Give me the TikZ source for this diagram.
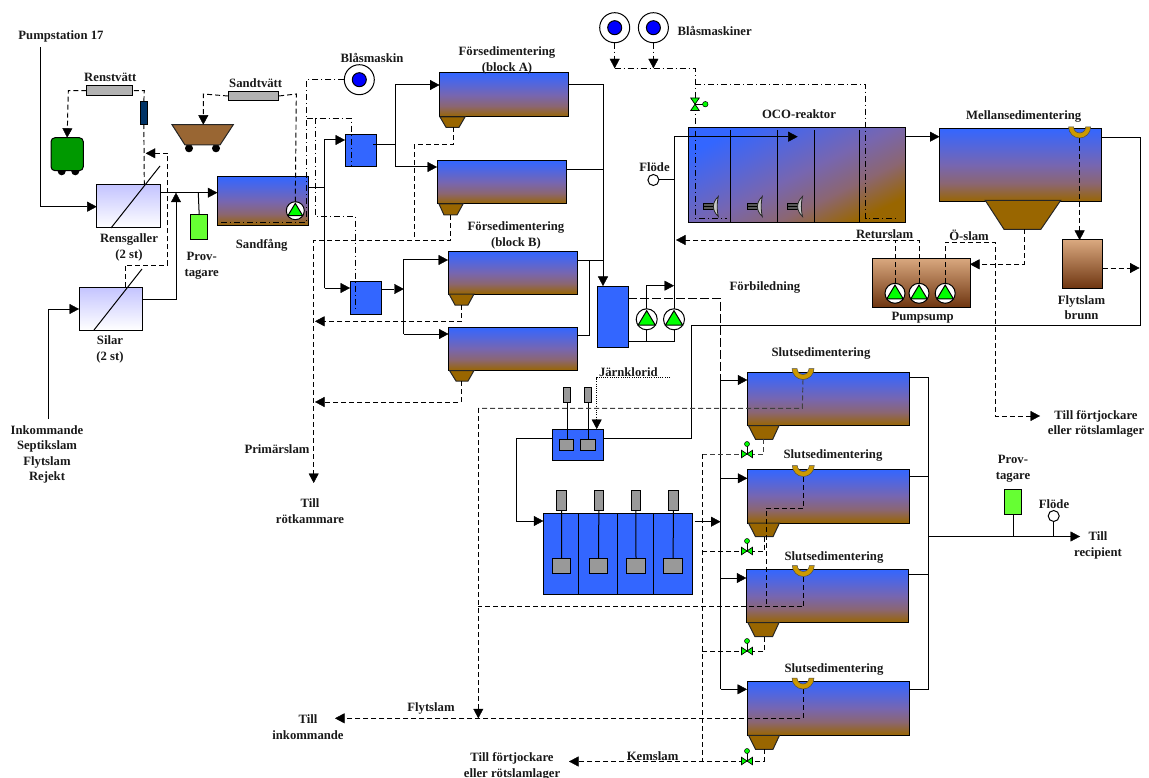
\documentclass[tikz,border=0pt]{standalone}
\usepackage{fontspec}
\setmainfont{Liberation Serif}
\usetikzlibrary{arrows.meta}
\pgfdeclarelayer{tanks}
\pgfdeclarelayer{top}
\pgfsetlayers{tanks,main,top}
\definecolor{tb}{HTML}{3366FF}
\definecolor{tq}{HTML}{5566DA}
\definecolor{tm}{HTML}{7766B0}
\definecolor{tn}{HTML}{8B6672}
\definecolor{tbr}{HTML}{996600}
\definecolor{hop}{HTML}{996600}
\definecolor{cart}{HTML}{996633}
\definecolor{navy}{HTML}{003366}
\definecolor{swt}{HTML}{D9A87F}
\definecolor{swb}{HTML}{6E3510}
\definecolor{wr}{HTML}{CC9900}
\definecolor{gr}{HTML}{00FF00}
\definecolor{prov}{HTML}{66FF33}
\definecolor{gy}{HTML}{999999}
\definecolor{gl}{HTML}{B2B2B2}
\definecolor{lav}{HTML}{C4C4FF}
\pgfdeclareverticalshading{tankfill}{100bp}{color(0bp)=(tbr); color(25bp)=(tbr); color(37.5bp)=(tn); color(50bp)=(tm); color(62.5bp)=(tq); color(75bp)=(tb); color(100bp)=(tb)}
\tikzset{
 spanbox/.style n args={4}{at={({(#1+#3)/2},{(#2+#4)/2})},minimum width={(#3-#1)*1pt},minimum height={(#4-#2)*1pt}},
 base/.style={draw=black,line width=1pt,inner sep=0pt,outer sep=0pt},
 tank/.style={base,shading=tankfill},
 bluebox/.style={base,fill=tb},
 greybox/.style={base,fill=gy},
 sump/.style={base,top color=swt,bottom color=swb},
 screen/.style={base,top color=lav,bottom color=white},
 provbox/.style={base,fill=prov},
 ln/.style={draw=black,line width=1pt},
 tip/.style={-{Triangle[length=9.5pt,width=10pt,fill=black,line width=.4pt]}},
 arr/.style={ln,tip},
 dsh/.style={draw=black,line width=.95pt,dash pattern=on 5pt off 3pt},
 dsharr/.style={dsh,tip},
 dgrey/.style={draw=black!75,line width=.95pt,dash pattern=on 5pt off 3pt},
 ldsh/.style={draw=black,line width=.95pt,dash pattern=on 9pt off 3pt},
 ddot/.style={draw=black,line width=.9pt,dash pattern=on 6pt off 3pt on 1pt off 3pt},
 ddotarr/.style={ddot,tip},
 dotl/.style={draw=black,line width=.75pt,dash pattern=on 1pt off 1.2pt},
 lab/.style={font=\fontsize{12.7}{15.6}\selectfont\bfseries,align=center,text=black!90,inner sep=0pt,yshift=-1pt},
}
\newcommand{\hopper}[6]{\fill[hop,draw=black!85,line width=1pt] (#1,#5)--(#2,#5)--(#4,#6)--(#3,#6)--cycle;}
\newcommand{\pumpnode}[4]{\node[base,circle,fill=white,minimum size=#4*2pt] (#1) at (#2,#3) {};
 \fill[gr,draw=black,line width=1pt] ({#2},{#3-#4*.82})--({#2+#4*.82},{#3+#4*.55})--({#2-#4*.82},{#3+#4*.55})--cycle;}
\newcommand{\blowernode}[3]{\node[base,circle,fill=white,minimum size=30pt] (#1) at (#2,#3) {};
 \node[base,circle,fill=blue,minimum size=14pt] at (#2,#3) {};}
\newcommand{\weirshape}[3]{\fill[wr,draw=black!70,line width=.5pt] ({#2-11},#3) arc[start angle=180,end angle=360,radius=11pt] -- ({#2+6},#3) arc[start angle=0,end angle=-180,radius=6pt] -- cycle;
 \coordinate (#1) at (#2,{#3+11});}
\newcommand{\valveH}[3]{\draw[black,line width=.8pt] (#2,#3)--(#2,{#3-10});
 \fill[gr,draw=black,line width=.7pt] ({#2-5.5},{#3-3.7})--(#2,#3)--({#2-5.5},{#3+3.7})--cycle;
 \fill[gr,draw=black,line width=.7pt] ({#2+5.5},{#3-3.7})--(#2,#3)--({#2+5.5},{#3+3.7})--cycle;
 \node[circle,fill=gr,draw=black,line width=.5pt,minimum size=5pt,inner sep=0pt] (#1) at (#2,{#3-10}) {};}
\newcommand{\mixdev}[2]{\fill[black!65,draw=black,line width=.7pt] ({#1-5.5},{#2-3.2})rectangle({#1+5.5},{#2+3.2});
 \draw[black,line width=.6pt] ({#1-5.5},#2)--({#1+5.5},#2);
 \fill[gray!45,draw=black!85,line width=.8pt] ({#1+9.5},{#2-10}) .. controls ({#1+3},{#2-4}) and ({#1+3},{#2+4}) .. ({#1+9.5},{#2+10}) .. controls ({#1+8},{#2+4}) and ({#1+8},{#2-4}) .. cycle;}
\begin{document}
\begin{tikzpicture}[x=1pt,y=-1pt]
\useasboundingbox (0,0) rectangle (1149,778);
\begin{pgfonlayer}{tanks}
% process units
\node[screen,spanbox={96.7}{185}{160}{228}] (rg) {};
\node[screen,spanbox={79}{287}{142}{330}] (silar) {};
\node[tank,spanbox={217.3}{176.7}{308.7}{226}] (sand) {};
\node[provbox,spanbox={190.7}{215}{207.7}{240}] (prov1) {};
\node[greybox,fill=gl,spanbox={86.3}{86}{132.7}{95.3}] (rt) {};
\node[base,fill=navy,spanbox={140.7}{101.3}{147}{125}] (rdev) {};
\fill[black] (61.7,171.3) circle[radius=4pt] (75.3,171.3) circle[radius=4pt];
\node[base,fill=green!60!black,rounded corners=4pt,spanbox={51}{137.7}{83.3}{170.7}] (rwagon) {};
\node[greybox,fill=gl,spanbox={228}{91.3}{278.7}{100.7}] (st) {};
\fill[black] (189,148.3) circle[radius=4pt] (216,148.3) circle[radius=4pt];
\fill[cart,draw=black!85,line width=1pt] (172,124.7)--(233.3,124.7)--(220,145)--(185,145)--cycle;
\coordinate (swagon) at (203.3,124.7);
\node[bluebox,spanbox={345}{135}{376}{167}] (d1) {};
\node[bluebox,spanbox={350}{282}{381}{314}] (d2) {};
\node[tank,spanbox={439.5}{73}{568}{117}] (fa1) {};
\node[tank,spanbox={437}{161}{566}{204}] (fa2) {};
\node[tank,spanbox={448}{251.7}{577}{294}] (fb1) {};
\node[tank,spanbox={448.5}{327}{577}{370.5}] (fb2) {};
\hopper{440}{465}{446}{459}{117}{127.3}
\hopper{439}{463}{444}{457}{204}{215}
\hopper{449}{474}{455}{468}{294}{305}
\hopper{449.5}{474}{456}{468}{370.5}{381}
\node[bluebox,spanbox={597}{286}{628}{347}] (wet) {};
\node[tank,shading angle=26,spanbox={688.8}{127.3}{905.4}{222.7}] (oco) {};
\foreach \xd/\yd in {730.3/130,777.7/130,814.3/130,859.5/130}
  \draw[black,line width=1pt] (\xd,\yd)--(\xd,222.7);
\mixdev{708.8}{206.5}
\mixdev{752.8}{206.5}
\mixdev{793}{206.5}
\node[tank,spanbox={939.5}{128.3}{1101.5}{201.7}] (ms) {};
\hopper{985.3}{1060.6}{1004}{1040.9}{200.5}{229.3}
\node[sump,spanbox={872}{258.3}{970}{307.3}] (ps) {};
\node[sump,spanbox={1062}{240}{1102.5}{288.7}] (fb) {};
\node[tank,spanbox={747.3}{372}{909.3}{425.7}] (s1) {};
\node[tank,spanbox={747.3}{469.3}{909.3}{523}] (s2) {};
\node[tank,spanbox={746.3}{569.3}{908.7}{622.7}] (s3) {};
\node[tank,spanbox={747}{681.7}{909}{735.3}] (s4) {};
\hopper{748.5}{779}{755.5}{772.7}{425.7}{439.3}
\hopper{748.5}{779.5}{755.5}{773}{523}{536.7}
\hopper{748}{779}{755}{772.5}{622.7}{636.7}
\hopper{748.5}{779.5}{755.5}{773}{735.3}{749.3}
\node[bluebox,spanbox={552.7}{429}{603.3}{460}] (dose) {};
\node[greybox,spanbox={559.3}{439.7}{573.7}{450.7}] (dg1) {};
\node[greybox,spanbox={580.3}{439.7}{595.7}{450.7}] (dg2) {};
\node[greybox,spanbox={563.3}{387.7}{570.7}{402.3}] (dt1) {};
\node[greybox,spanbox={584.3}{387.7}{591.7}{402.3}] (dt2) {};
\node[bluebox,spanbox={543.3}{513.3}{692.7}{594}] (fl) {};
\foreach \xd in {578.7,617.7,653} \draw[black,line width=1pt] (\xd,513.3)--(\xd,594);
\node[greybox,spanbox={556.7}{490.7}{566.7}{510}] (m1) {};
\node[greybox,spanbox={594}{490.7}{603.7}{510}] (m2) {};
\node[greybox,spanbox={631}{490.7}{640.7}{510}] (m3) {};
\node[greybox,spanbox={668.3}{490.7}{678.3}{510}] (m4) {};
\node[greybox,spanbox={552.3}{558.7}{570.7}{573.3}] (g1) {};
\node[greybox,spanbox={589.3}{558.7}{607.7}{573.3}] (g2) {};
\node[greybox,spanbox={626.7}{558.7}{645.3}{573.3}] (g3) {};
\node[greybox,spanbox={663.7}{558.7}{682.7}{573.3}] (g4) {};
\node[provbox,spanbox={1004.7}{489}{1021.7}{514}] (prov2) {};
\end{pgfonlayer}
\begin{pgfonlayer}{top}
\pumpnode{psand}{295.3}{210.7}{9}
\pumpnode{pw1}{646.7}{319.3}{10.5}
\pumpnode{pw2}{674}{319.3}{10.5}
\pumpnode{ps1}{895}{293.3}{10}
\pumpnode{ps2}{919}{293.3}{10}
\pumpnode{ps3}{945.2}{293.3}{10}
\blowernode{bm}{359.3}{79.7}
\blowernode{bl1}{614.7}{27.7}
\blowernode{bl2}{653.4}{27.7}
\weirshape{wm}{1079.6}{127}
\weirshape{w1}{803}{368.5}
\weirshape{w2}{803.3}{465.5}
\weirshape{w3}{803.3}{565.5}
\weirshape{w4}{803}{678}
\valveH{v1}{747}{454}
\valveH{v2}{747}{551}
\valveH{v3}{747}{651}
\valveH{v4}{747}{761}
\fill[gr,draw=black,line width=.7pt] (690.7,98)--(699.3,98)--(695,104.2)--cycle;
\fill[gr,draw=black,line width=.7pt] (690.7,110.5)--(699.3,110.5)--(695,104.2)--cycle;
\draw[black,line width=.8pt] (695,104.2)--(703,104.2);
\node[circle,fill=gr,draw=black,line width=.5pt,minimum size=5.5pt,inner sep=0pt] (vo) at (705.3,104.2) {};
\node[circle,draw=black,line width=1pt,fill=white,minimum size=11pt,inner sep=0pt] (fq1) at (653.4,180) {};
\node[circle,draw=black,line width=1pt,fill=white,minimum size=11pt,inner sep=0pt] (fq2) at (1053.7,516) {};
\end{pgfonlayer}
% influent and screens
\coordinate (ps17) at (40.3,47);
\coordinate (ink) at (48,419);
\coordinate (rgj) at (176,192.7);
\draw[arr] (ps17)--(40.3,206.7)--(rg.west |- 0,206.7);
\draw[arr] (ink)--(48,309)--(silar.west |- 0,309);
\draw[ln] (111,228)--(160,166);
\draw[ln] (94,330)--(142,269);
\draw[arr] (rg.east |- 0,192.7)--(sand.west |- 0,192.7);
\draw[arr] (silar.east |- 0,299)--(176,299)--(rgj);
\draw[ln] (198.3,192.7)--(prov1.north);
\draw[dsh] (rg.north -| 144.3,0)--(rdev.south);
\draw[dsh] (rdev.north)--(144.3,90.7)--(rt.east);
\draw[dsharr] (rt.west)--(68.3,90.7)--(rwagon.north);
\draw[dsharr] (silar.north -| 125.3,0)--(125.3,265)--(167.7,265)--(167.7,153.3)--(145.7,153.3);
\draw[dsh] (psand.north)--(296.3,94)--(st.east);
\draw[dsharr] (st.west)--(203.3,94)--(swagon);
% air to grit chamber and channels
\draw[ddot] (bm.west)--(306.7,79.7)--(306.7,222)--(220,222);
\draw[ddot] (306.7,118)--(351,118)--(351,165);
\draw[ddot] (315,118)--(315,216)--(355.3,216)--(355.3,310);
% pretreated flow
\draw[ln] (sand.east |- 0,187.7)--(324.7,187.7);
\draw[arr] (324.7,288)--(324.7,140)--(d1.west |- 0,140);
\draw[arr] (324.7,288)--(d2.west |- 0,288);
\draw[ln] (373,145)--(395,145);
\draw[arr] (395,167)--(395,85)--(fa1.west |- 0,85);
\draw[arr] (395,167)--(fa2.west |- 0,167);
\draw[arr] (d2.east |- 0,289)--(403.8,289);
\draw[arr] (403.8,334)--(403.8,260)--(fb1.west |- 0,260);
\draw[arr] (403.8,334)--(fb2.west |- 0,334);
\draw[ln] (fa1.east |- 0,85)--(603,85)--(603,170);
\draw[ln] (fa2.east |- 0,170)--(603,170);
\draw[arr] (603,170)--(wet.north -| 603,0);
\draw[ln] (fb1.east |- 0,261)--(603,261);
\draw[ln] (589,261)--(589,335)--(fb2.east |- 0,335);
% primary sludge
\coordinate (tillrot) at (313.7,483);
\draw[dsh] (453.3,127.3)--(453.3,144.7)--(414.3,144.7)--(414.3,240);
\draw[dsharr] (450.7,215)--(450.7,240)--(313.7,240)--(tillrot);
\coordinate (ps1tip) at (315,321.3);
\coordinate (ps2tip) at (315,402);
\draw[dsharr] (461.7,305)--(461.7,321.3)--(ps1tip);
\draw[dsharr] (461,381)--(461,402)--(ps2tip);
% pumps to OCO
\draw[ln] (wet.east |- 0,341)--(674,341)--(pw2.south);
\draw[ln] (646.7,341)--(pw1.south);
\draw[arr] (pw1.north)--(646.7,285.7)--(674,285.7);
\coordinate (ocotip) at (797.7,136.7);
\draw[ln] (pw2.north)--(674,136.7);
\draw[arr] (674,136.7)--(ocotip);
\draw[ln] (fq1.east)--(674,180);
% air to OCO
\coordinate (ba1) at (614.7,68.3);
\coordinate (ba2) at (653.4,68.3);
\draw[ddotarr] (bl1.south)--(ba1);
\draw[ddotarr] (bl2.south)--(ba2);
\draw[ddot] (ba1)--(695,68.3)--(695,218)--(726.7,218);
\draw[ddot] (695,84.3)--(865.6,84.3)--(865.6,218.3)--(898,218.3);
% OCO to intermediate clarifier
\draw[arr] (oco.east |- 0,136.7)--(ms.west |- 0,136.7);
\draw[ln] (ms.east |- 0,138)--(1140,138)--(1140,325.3)--(691,325.3)--(691,438.7)--(dose.east |- 0,438.7);
\draw[dsharr] (wm)--(fb.north -| 1079.6,0);
\coordinate (fbtip) at (1139.5,268);
\draw[dsharr] (fb.east |- 0,268)--(fbtip);
\draw[dsharr] (1024.4,229.3)--(1024.4,264.3)--(ps.east |- 0,264.3);
\coordinate (rettip) at (676,240);
\draw[dsharr] (ps2.north)--(919,240)--(rettip);
\draw[dsh] (ps1.north)--(895,240);
\coordinate (oslam) at (1040,416);
\draw[dsharr] (ps3.north)--(945.2,242)--(995,242)--(995,416)--(oslam);
% bypass and final clarifiers
\draw[ldsh] (wet.east |- 0,298.3)--(720.5,298.3)--(720.5,380);
\draw[ln] (720.5,380)--(720.5,689.3);
\draw[arr] (720.5,380)--(s1.west |- 0,380);
\draw[arr] (720.5,478.3)--(s2.west |- 0,478.3);
\draw[arr] (720.5,578)--(s3.west |- 0,578);
\draw[arr] (720.5,689.3)--(s4.west |- 0,689.3);
\draw[ln] (s1.east |- 0,377.7)--(928.3,377.7)--(928.3,689.3)--(s4.east |- 0,689.3);
\draw[ln] (s2.east |- 0,476.7)--(928.3,476.7);
\draw[ln] (s3.east |- 0,574.3)--(928.3,574.3);
\coordinate (recip) at (1080,536.5);
\draw[arr] (928.3,536.5)--(recip);
\draw[ln] (prov2.south)--(prov2.south |- 0,536.5);
\draw[ln] (fq2.south)--(fq2.south |- 0,536.5);
% chemical dosing
\draw[ln] (dt1.south)--(dg1.north -| dt1.south);
\draw[ln] (dt2.south)--(dg2.north -| dt2.south);
\draw[arr] (dose.west |- 0,438.7)--(516,438.7)--(516,521)--(fl.west |- 0,521);
\draw[dotl,tip] (670,377.7)--(596.7,377.7)--(dose.north -| 596.7,0);
\draw[arr] (694.5,521.7)--(720.5,521.7);
\foreach \a/\b in {m1/g1,m2/g2,m3/g3,m4/g4} \draw[ln] (\a.south)--(\b.north);
% clarifier scum
\coordinate (flytmid) at (478.3,718.3);
\coordinate (inktip) at (335,718.3);
\draw[dgrey] (w1)--(802.3,408.3)--(478.3,408.3);
\draw[dsharr] (478.3,408.3)--(flytmid);
\draw[dsh] (w3)--(803.3,606.7)--(478.3,606.7);
\draw[dsh] (w2)--(803.3,508.3)--(766,508.3)--(766,606.7);
\draw[dsharr] (w4)--(803,718.3)--(inktip);
% chemical sludge
\coordinate (kemtip) at (569,761.5);
\draw[dgrey] (763.7,439.3)--(763.7,454.3)--(702,454.3);
\draw[dsh] (702,454.3)--(702,761.5);
\draw[dsh] (764,536.7)--(764,551.7)--(702,551.7);
\draw[dsh] (764,636.7)--(764,651.7)--(702,651.7);
\draw[dsharr] (764,749.3)--(764,761.5)--(kemtip);
% labels
\node[lab] (l1) at (61,35.7) {Pumpstation 17};
\node[lab] (l2) at (110.3,76.7) {Renstvätt};
\node[lab] (l3) at (255.7,82) {Sandtvätt};
\node[lab] (l4) at (372,57) {Blåsmaskin};
\node[lab] (l5) at (507,59.5) {Försedimentering\\(block A)};
\node[lab] (l6) at (516,234.5) {Försedimentering\\(block B)};
\node[lab] (l7) at (714.7,30) {Blåsmaskiner};
\node[lab] (l8) at (799,113) {OCO-reaktor};
\node[lab] (l9) at (1023.7,115.7) {Mellansedimentering};
\node[lab] (l10) at (654.5,165.7) {Flöde};
\node[lab] (l11) at (129,246.5) {Rensgaller\\(2 st)};
\node[lab] (l12) at (201.7,264.8) {Prov-\\tagare};
\node[lab] (l13) at (261.7,244) {Sandfång};
\node[lab] (l14) at (110,348.5) {Silar\\(2 st)};
\node[lab] (l15) at (47,453.5) {Inkommande\\Septikslam\\Flytslam\\Rejekt};
\node[lab] (l16) at (277,448) {Primärslam};
\node[lab] (l17) at (310,510) {Till\\rötkammare};
\node[lab] (l18) at (884.6,232.7) {Returslam};
\node[lab] (l19) at (969,234.7) {Ö-slam};
\node[lab] (l20) at (765,286) {Förbiledning};
\node[lab] (l21) at (922.6,316.7) {Pumpsump};
\node[lab] (l22) at (1081.5,306.5) {Flytslam\\brunn};
\node[lab] (l23) at (1096,423) {Till förtjockare\\eller rötslamlager};
\node[lab] (l24) at (628.3,370.7) {Järnklorid};
\node[lab] (l25) at (821,352.7) {Slutsedimentering};
\node[lab] (l26) at (833,454.7) {Slutsedimentering};
\node[lab] (l27) at (834,556) {Slutsedimentering};
\node[lab] (l28) at (834,668.7) {Slutsedimentering};
\node[lab] (l29) at (1013,468) {Prov-\\tagare};
\node[lab] (l30) at (1054,503) {Flöde};
\node[lab] (l31) at (1098,544.3) {Till\\recipient};
\node[lab] (l32) at (431,707) {Flytslam};
\node[lab] (l33) at (308,726) {Till\\inkommande};
\node[lab] (l34) at (652.6,755) {Kemslam};
\node[lab] (l35) at (512,765.3) {Till förtjockare\\eller rötslamlager};
\end{tikzpicture}
\end{document}
